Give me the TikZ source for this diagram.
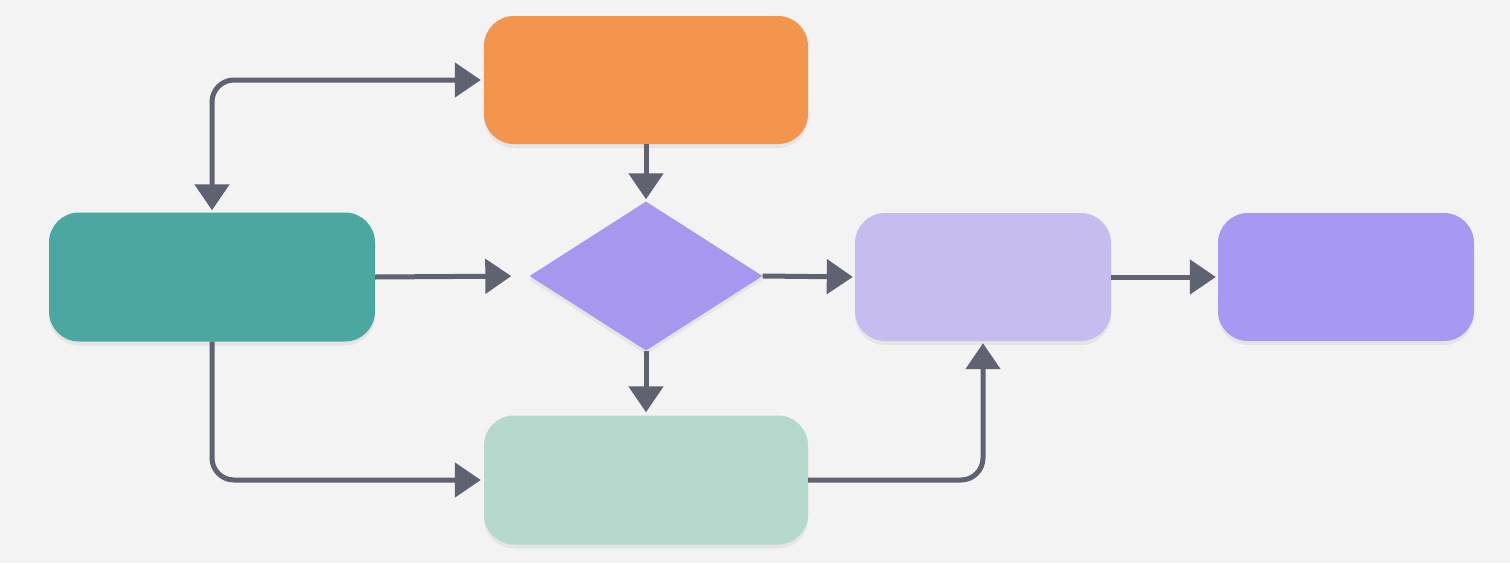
\documentclass[tikz,border=0pt]{standalone}
\usetikzlibrary{arrows.meta,shapes.geometric,shadows}
\definecolor{bgc}{HTML}{F3F3F3}
\definecolor{orangec}{HTML}{F4954E}
\definecolor{tealc}{HTML}{4BA8A0}
\definecolor{diac}{HTML}{A797EF}
\definecolor{lavc}{HTML}{C7BCEF}
\definecolor{purc}{HTML}{A798F2}
\definecolor{mintc}{HTML}{B6D9CE}
\definecolor{linec}{HTML}{5F6271}
\tikzset{
  box/.style={rectangle, rounded corners=30pt, inner sep=0pt, draw=none,
    drop shadow={opacity=0.12, shadow xshift=0pt, shadow yshift=-4pt}},
  dia/.style={diamond, inner sep=0pt, draw=none, minimum width=233pt, minimum height=149pt,
    drop shadow={opacity=0.12, shadow xshift=0pt, shadow yshift=-4pt}},
  conn/.style={draw=linec, line width=5pt, -{Triangle[length=26pt,width=34pt]}},
  conn2/.style={draw=linec, line width=5pt, {Triangle[length=26pt,width=34pt]}-{Triangle[length=26pt,width=34pt]}}
}
\begin{document}
\begin{tikzpicture}[x=1pt,y=-1pt]
\fill[bgc] (0,0) rectangle (1510,563);
\useasboundingbox (0,0) rectangle (1510,563);
\node[box, fill=orangec, minimum width=324pt, minimum height=128pt] (orange) at (646,80) {};
\node[box, fill=tealc, minimum width=326pt, minimum height=129pt] (teal) at (212,277) {};
\node[dia, fill=diac] (dia) at (646,276) {};
\node[box, fill=lavc, minimum width=256pt, minimum height=128pt] (lav) at (983,277) {};
\node[box, fill=purc, minimum width=256pt, minimum height=128pt] (pur) at (1346,277) {};
\node[box, fill=mintc, minimum width=324pt, minimum height=129pt] (mint) at (646,480) {};
\draw[conn2, rounded corners=22pt, shorten <=3pt, shorten >=2pt] (orange.west) -| (teal.north);
\draw[conn, shorten >=2pt] (orange.south) -- (dia.north);
\draw[conn, shorten >=18pt] (teal.east) -- (dia.west);
\draw[conn, shorten >=2pt] (dia.east) -- (lav.west);
\draw[conn, shorten >=3pt] (dia.south) -- (mint.north);
\draw[conn, rounded corners=22pt, shorten >=3pt] (teal.south) |- (mint.west);
\draw[conn, rounded corners=22pt, shorten >=2pt] (mint.east) -| (lav.south);
\draw[conn, shorten >=2pt] (lav.east) -- (pur.west);
\end{tikzpicture}
\end{document}
